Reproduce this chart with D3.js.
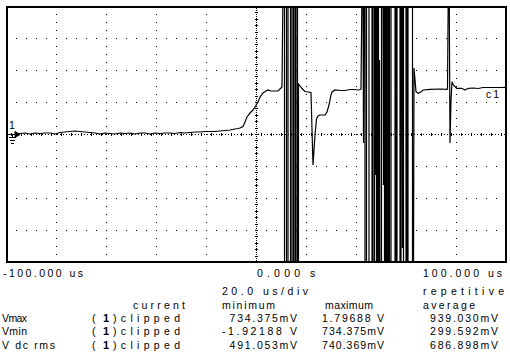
<!DOCTYPE html>
<html><head><meta charset="utf-8">
<script src="https://cdn.jsdelivr.net/npm/d3@7"></script>
<style>
body{margin:0;background:#fff}
svg{display:block}
text{font-family:"Liberation Sans",Arial,sans-serif;font-size:10.5px;fill:#000}
</style>
</head><body>
<svg id="c" width="510" height="360"></svg>
<script>
// ---- data ----
const timeDomain = [-100, 100];     // microseconds across the screen (20 us/div)
const voltDomain = [-2.8, 2.8];     // volts across the screen
const xGridTicks = [-80, -60, -40, -20, 20, 40, 60, 80];
const yGridTicks = [-2.1, -1.4, -0.7, 0.7, 1.4, 2.1];

// trace time (us) and voltage (V); +/-3.2 = clipped off-screen
const traceTime = [
 -96,-94.4,-92.4,-90.4,-88.4,-86.4,-84.4,-82.4,-80.4,-78.4,-76.4,-74.4,-72.4,-70.4,-68.4,-66.4,-64.4,-62.4,-60.4,-58.4,
 -56.4,-54.4,-52.4,-50.4,-48.4,-46.4,-44.4,-42.4,-40.4,-38.4,-36.4,-34.4,-32.4,-30.4,-28.4,-26.4,-24.4,-22.4,-20.4,-18.4,
 -16.4,-14.4,-12.4,-10.4,-8.4,-7.2,-6.4,-5.2,-4.4,-3.6,-2.4,-1.2,-0.4,0.8,1.6,2.8,4.0,4.8,6.0,7.6,8.8,9.6,10.4,
 10.8,11.4,11.4,12.2,12.2,12.8,12.8,13.8,13.8,14.4,14.4,15.0,15.0,15.6,15.6,16.0,16.0,16.6,16.6,17.0,17.0,
 18.4,19.6,20.8,22.0,22.4,22.8,23.2,23.6,24.2,24.8,25.6,27.6,28.4,29.2,30.0,30.4,31.6,33.6,35.6,37.6,39.6,40.8,41.6,42.0,
 42.4,42.8,43.0,43.2,43.6,43.6,44.2,44.2,45.2,45.2,46.4,46.4,46.8,46.8,47.4,47.4,47.6,47.8,48.0,48.2,48.2,48.6,48.6,49.0,49.0,
 49.4,49.4,49.6,50.2,50.2,50.8,51.0,51.2,51.4,51.4,51.8,51.8,52.2,52.2,52.6,52.6,53.0,53.0,53.4,53.4,54.0,54.0,55.6,55.6,
 56.0,56.0,56.4,56.4,57.6,57.6,58.0,58.0,58.4,58.6,58.8,59.0,59.0,60.0,60.0,60.4,60.4,60.8,60.8,62.6,62.6,63.0,
 63.2,64.0,64.92,65.6,66.92,69.6,73.6,76.28,76.6,76.92,77.28,77.6,78.0,78.4,78.92,80.28,82.28,83.6,84.92,86.92,88.92,90.8,93.6,97.6,100
];
const traceVolt = [
 0.011,0.011,0.022,0,0.022,0.011,0.022,0.022,0,0.033,0.044,0.055,0.066,0.055,0.044,0.033,0.022,0,0.022,0.011,
 0,0.022,0.011,0.022,0,0.022,0.022,0,0.022,0.011,0.022,0.022,0.011,0.033,0.022,0.033,0.044,0.044,0.055,0.055,
 0.055,0.066,0.077,0.088,0.109,0.12,0.131,0.164,0.263,0.372,0.459,0.525,0.591,0.7,0.809,0.897,0.941,0.963,0.941,0.941,0.941,0.984,1.028,
 3.2,3.2,-3.2,-3.2,3.2,3.2,-3.2,-3.2,3.2,3.2,-3.2,-3.2,3.2,3.2,-3.2,-3.2,3.2,3.2,-3.2,-3.2,1.094,
 0.995,0.93,0.919,0.908,0.088,-0.678,-0.35,-0.022,0.328,0.394,0.416,0.416,0.481,0.634,0.853,0.919,0.963,0.952,0.952,0.973,0.973,0.963,0.973,0.984,
 3.2,3.2,-0.197,3.2,3.2,-3.2,-3.2,3.2,3.2,-3.2,-3.2,3.2,3.2,-3.2,-3.2,3.2,3.2,-0.897,3.2,3.2,-3.2,-3.2,3.2,3.2,-3.2,
 -3.2,1.619,-3.2,-3.2,3.2,3.2,-1.116,3.2,3.2,-3.2,-3.2,3.2,3.2,-3.2,-3.2,3.2,3.2,-3.2,-3.2,3.2,3.2,-3.2,-3.2,3.2,
 3.2,-3.2,-3.2,3.2,3.2,-3.2,-3.2,3.2,3.2,-2.494,3.2,3.2,-3.2,-3.2,3.2,3.2,-3.2,-3.2,3.2,3.2,-3.2,-3.2,
 1.444,0.925,0.89,0.908,0.963,0.978,0.984,0.978,0.984,3.2,3.2,-0.197,0.744,1.144,1.072,1.0,1.0,0.963,1.0,1.006,0.995,1.017,1.017,1.017,1.022
];

const axisLabels = ["-100.000 us", "0.000", "s", "100.000 us"];
const scaleLabel = "20.0 us/div";
const modeLabel = "repetitive";
const columnHeads = ["current", "minimum", "maximum", "average"];
const measureNames = ["Vmax", "Vmin", "V dc rms"];
const currentVals = ["clipped", "clipped", "clipped"];
const minVals = ["734.375mV", "-1.92188 V", "491.053mV"];
const maxVals = ["1.79688 V", "734.375mV", "740.369mV"];
const avgVals = ["939.030mV", "299.592mV", "686.898mV"];
const channelLabel = "c1";
const channelNum = "1";

// ---- drawing ----
const svg = d3.select("#c");
const x = d3.scaleLinear().domain(timeDomain).range([6, 506]);
const y = d3.scaleLinear().domain(voltDomain).range([262, 6]);

const grid = svg.append("g");
// regular dotted grid
grid.selectAll("line.v").data(xGridTicks).join("line")
  .attr("x1", d => Math.round(x(d)) + 0.5).attr("x2", d => Math.round(x(d)) + 0.5)
  .attr("y1", 6).attr("y2", 262)
  .attr("stroke", "#000").attr("stroke-dasharray", "1,7");
grid.selectAll("line.h").data(yGridTicks).join("line")
  .attr("y1", d => Math.round(y(d)) + 0.5).attr("y2", d => Math.round(y(d)) + 0.5)
  .attr("x1", 6).attr("x2", 506)
  .attr("stroke", "#000").attr("stroke-dasharray", "1,9");
// centre axes (finer dotted with minor ticks)
const cx = Math.round(x(0)) + 0.5, cy = Math.round(y(0)) + 0.5;
grid.append("line").attr("x1", cx).attr("x2", cx).attr("y1", 6).attr("y2", 262)
  .attr("stroke", "#000").attr("stroke-dasharray", "1,1");
grid.append("line").attr("y1", cy).attr("y2", cy).attr("x1", 6).attr("x2", 506)
  .attr("stroke", "#000").attr("stroke-dasharray", "1,2");
const hMinor = d3.range(-98, 100, 4);
grid.selectAll("line.hm").data(hMinor).join("line")
  .attr("x1", d => Math.round(x(d)) + 0.5).attr("x2", d => Math.round(x(d)) + 0.5)
  .attr("y1", cy - 1.5).attr("y2", cy + 1.5).attr("stroke", "#000");
const vMinor = d3.range(-2.66, 2.8, 0.14);
grid.selectAll("line.vm").data(vMinor).join("line")
  .attr("y1", d => Math.round(y(d)) + 0.5).attr("y2", d => Math.round(y(d)) + 0.5)
  .attr("x1", cx - 1.5).attr("x2", cx + 1.5).attr("stroke", "#000");

// trace
svg.append("clipPath").attr("id", "plot").append("rect")
  .attr("x", 6).attr("y", 6).attr("width", 500).attr("height", 256);
const pts = traceTime.map((t, i) => [t, traceVolt[i]]);
svg.append("path").attr("clip-path", "url(#plot)")
  .attr("d", d3.line().x(d => x(d[0])).y(d => y(d[1]))(pts))
  .attr("fill", "none").attr("stroke", "#000").attr("stroke-width", 1.2)
  .attr("stroke-linejoin", "miter");

// frame
svg.append("rect").attr("x", 7).attr("y", 7).attr("width", 499).attr("height", 255)
  .attr("fill", "none").attr("stroke", "#000").attr("stroke-width", 2);

// ground marker
const gy = y(0);
const gm = svg.append("g").attr("stroke", "#000").attr("fill", "none");
gm.append("line").attr("x1", 6).attr("x2", 16).attr("y1", gy + 0.5).attr("y2", gy + 0.5);
gm.append("path").attr("d", `M15,${gy - 2.5} L20,${gy + 0.5} L15,${gy + 3.5} Z`).attr("fill", "#000");
gm.append("line").attr("x1", 12.5).attr("x2", 12.5).attr("y1", gy).attr("y2", gy + 4);
gm.append("line").attr("x1", 9).attr("x2", 16).attr("y1", gy + 3.5).attr("y2", gy + 3.5);
gm.append("line").attr("x1", 10).attr("x2", 15).attr("y1", gy + 6.5).attr("y2", gy + 6.5);
gm.append("line").attr("x1", 11).attr("x2", 14).attr("y1", gy + 9.5).attr("y2", gy + 9.5);
svg.append("text").attr("x", 9).attr("y", gy - 5).text(channelNum);
svg.append("text").attr("x", 486).attr("y", y(0.78)).attr("textLength", 13).text(channelLabel);

// texts
function txt(px, py, s, len, bold) {
  const t = svg.append("text").attr("x", px).attr("y", py).text(s);
  if (len) t.attr("textLength", len).attr("lengthAdjust", "spacing");
  if (bold) t.attr("font-weight", "bold").style("font-size", "11px");
  return t;
}
txt(3, 277, axisLabels[0], 80);
txt(257, 277, axisLabels[1], 43);
txt(310, 277, axisLabels[2]);
txt(423, 277, axisLabels[3], 79);
txt(222, 295, scaleLabel, 86);
txt(423, 295, modeLabel, 81);
const headX = [133, 222, 325, 423], headL = [52, 53, 48, 52];
columnHeads.forEach((h, i) => txt(headX[i], 308.5, h, headL[i]));
const rowY = [322, 335, 348.5];
measureNames.forEach((n, i) => {
  txt(2, rowY[i], n, n.length * 7 - 3);
  txt(92, rowY[i], "(");
  txt(103, rowY[i], channelNum, null, true);
  txt(113, rowY[i], ")" + currentVals[i], 67);
  const mv = minVals[i];
  txt(298 - mv.length * 7.6, rowY[i], mv, mv.length * 7.6 - 1);
  const xv = maxVals[i];
  txt(385 - xv.length * 7, rowY[i], xv, xv.length * 7 - 1);
  const av = avgVals[i];
  txt(430, rowY[i], av, 68);
});
</script>
</body></html>
